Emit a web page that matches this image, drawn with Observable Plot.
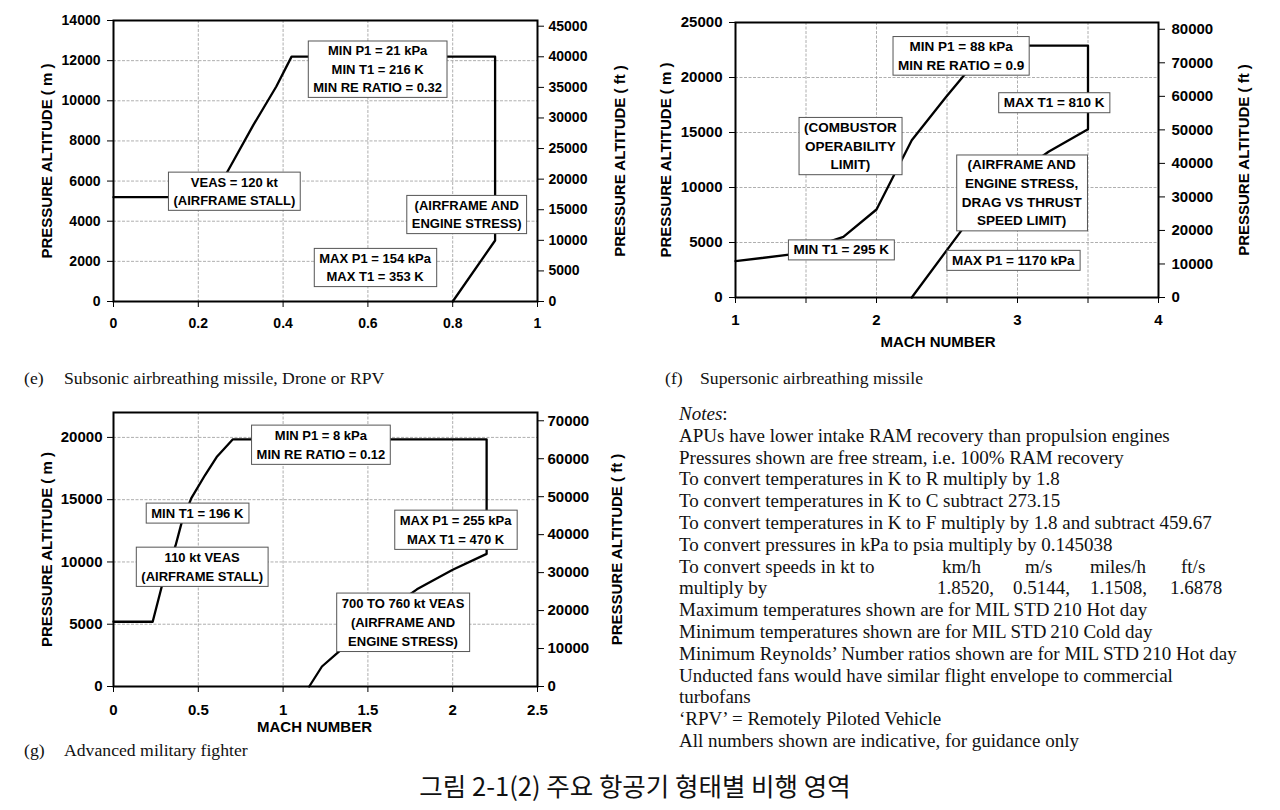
<!DOCTYPE html>
<html><head><meta charset="utf-8">
<script src="https://cdn.jsdelivr.net/npm/d3@7"></script>
<script src="https://cdn.jsdelivr.net/npm/@observablehq/plot@0.6"></script>
<style>
html,body{margin:0;padding:0;background:#fff}
body{width:1280px;height:810px;overflow:hidden;position:relative;font-family:"Liberation Sans",Arial,sans-serif;color:#000}
.panel{position:absolute}
.cap{position:absolute;font-family:"Liberation Serif","Times New Roman",serif;font-size:17.7px;color:#111;white-space:nowrap;line-height:22px}
.note{position:absolute;font-family:"Liberation Serif","Times New Roman",serif;font-size:19px;color:#111;white-space:nowrap;line-height:21.8px}
#title{position:absolute;left:0;width:1270px;top:769px;text-align:center;font-family:"Noto Sans CJK KR",sans-serif;font-size:25.5px;line-height:32px;color:#111}
</style></head>
<body>
<div id="pe" class="panel" style="left:0;top:0"></div>
<div id="pf" class="panel" style="left:640px;top:0"></div>
<div id="pg" class="panel" style="left:0;top:390px"></div>
<div id="captions"></div>
<div id="notes"></div>
<div id="title"></div>
<script>
const FT = 0.3048;
const yTitle = "PRESSURE ALTITUDE ( m )";
const ftTitle = "PRESSURE ALTITUDE ( ft )";
const xTitle = "MACH NUMBER";

// ---- (e) Subsonic airbreathing missile ----
const eMach = [0, 0.235, 0.2755, 0.33, 0.384, 0.42, 0.9, 0.9, 0.8];
const eAlt  = [5200, 5200, 6726, 8800, 10710, 12200, 12200, 3040, 0];
const eLabText = ["MIN P1 = 21 kPa\nMIN T1 = 216 K\nMIN RE RATIO = 0.32", "VEAS = 120 kt\n(AIRFRAME STALL)", "(AIRFRAME AND\nENGINE STRESS)", "MAX P1 = 154 kPa\nMAX T1 = 353 K"];
const eLabMach = [0.623, 0.285, 0.833, 0.617];
const eLabAlt  = [11640, 5560, 4400, 1760];
const eXTicks = [0, 0.2, 0.4, 0.6, 0.8, 1];
const eYTicks = [0, 2000, 4000, 6000, 8000, 10000, 12000, 14000];
const eFtTicks = [0, 5000, 10000, 15000, 20000, 25000, 30000, 35000, 40000, 45000];

// ---- (f) Supersonic airbreathing missile ----
const fMach = [1, 1.394, 1.765, 2.0, 2.25, 2.493, 2.62, 2.8, 3.5, 3.5, 3.22, 2.9, 2.607, 2.25];
const fAlt  = [3300, 3916, 5512, 8000, 14300, 18220, 20180, 22900, 22900, 15300, 13250, 10300, 6175, 0];
const fLabText = ["MIN P1 = 88 kPa\nMIN RE RATIO = 0.9", "MAX T1 = 810 K", "(COMBUSTOR\nOPERABILITY\nLIMIT)", "(AIRFRAME AND\nENGINE STRESS,\nDRAG VS THRUST\nSPEED LIMIT)", "MIN T1 = 295 K", "MAX P1 = 1170 kPa"];
const fLabMach = [2.6, 3.26, 1.815, 3.03, 1.75, 2.97];
const fLabAlt  = [22100, 17840, 13900, 9640, 4460, 3510];
const fXTicks = [1, 1.5, 2, 2.5, 3, 3.5, 4];
const fXLabels = [1, 2, 3, 4];
const fYTicks = [0, 5000, 10000, 15000, 20000, 25000];
const fFtTicks = [0, 10000, 20000, 30000, 40000, 50000, 60000, 70000, 80000];

// ---- (g) Advanced military fighter ----
const gMach = [0, 0.231, 0.2845, 0.366, 0.401, 0.459, 0.541, 0.611, 0.704, 2.2, 2.2, 2.0, 1.789, 1.56, 1.346, 1.229, 1.154];
const gAlt  = [5200, 5200, 8032, 11325, 13119, 15127, 17000, 18470, 19850, 19850, 10650, 9370, 7800, 5600, 3000, 1606, 0];
const gLabText = ["MIN P1 = 8 kPa\nMIN RE RATIO = 0.12", "MIN T1 = 196 K", "110 kt VEAS\n(AIRFRAME STALL)", "MAX P1 = 255 kPa\nMAX T1 = 470 K", "700 TO 760 kt VEAS\n(AIRFRAME AND\nENGINE STRESS)"];
const gLabMach = [1.223, 0.494, 0.523, 2.017, 1.707];
const gLabAlt  = [19545, 14056, 9745, 12717, 5288];
const gXTicks = [0, 0.5, 1, 1.5, 2, 2.5];
const gYTicks = [0, 5000, 10000, 15000, 20000];
const gFtTicks = [0, 10000, 20000, 30000, 40000, 50000, 60000, 70000];

// ---- captions, notes, title ----
const capTags = ["(e)", "(f)", "(g)"];
const capTexts = ["Subsonic airbreathing missile, Drone or RPV", "Supersonic airbreathing missile", "Advanced military fighter"];
const noteLines = [
  "APUs have lower intake RAM recovery than propulsion engines",
  "Pressures shown are free stream, i.e. 100% RAM recovery",
  "To convert temperatures in K to R multiply by 1.8",
  "To convert temperatures in K to C subtract 273.15",
  "To convert temperatures in K to F multiply by 1.8 and subtract 459.67",
  "To convert pressures in kPa to psia multiply by 0.145038",
  "To convert speeds in kt to",
  "multiply by",
  "Maximum temperatures shown are for MIL\u2009STD\u2009210 Hot day",
  "Minimum temperatures shown are for MIL\u2009STD\u2009210 Cold day",
  "Minimum Reynolds\u2019 Number ratios shown are for MIL\u2009STD\u2009210 Hot day",
  "Unducted fans would have similar flight envelope to commercial",
  "turbofans",
  "\u2018RPV\u2019 = Remotely Piloted Vehicle",
  "All numbers shown are indicative, for guidance only"
];
const speedUnits = ["km/h", "m/s", "miles/h", "ft/s"];
const speedFactors = ["1.8520,", "0.5144,", "1.1508,", "1.6878"];
const figTitle = "그림 2-1(2) 주요 항공기 형태별 비행 영역";

const FONT = "'Liberation Sans', Arial, sans-serif";

function panel(c) {
  const env = c.mach.map((m, i) => ({m, a: c.alt[i]}));
  const labs = c.labText.map((t, i) => ({t, m: c.labMach[i], a: c.labAlt[i]}));
  const grid = {stroke: "#9a9a9a", strokeOpacity: 1, strokeWidth: 0.8, strokeDasharray: "3,1.5"};
  const tickText = {fontSize: c.fs, fontWeight: "bold", tickSize: 6, label: null};
  const title = {fontSize: 15, fontWeight: "bold", textAnchor: "middle", lineAnchor: "middle"};
  const marks = [
    Plot.gridX(c.xTicks.filter(d => d > c.xDomain[0] && d < c.xDomain[1]), grid),
    Plot.gridY(c.yTicks.filter(d => d > 0 && d < c.yDomain[1]), grid),
    Plot.line(env, {x: "m", y: "a", stroke: "#000", strokeWidth: 2.3}),
    Plot.frame({stroke: "#000", strokeWidth: 2}),
    Plot.axisX(c.xTicks, {...tickText, tickPadding: c.xPad, tickFormat: c.xFmt}),
    Plot.axisY(c.yTicks, {...tickText, anchor: "left", tickPadding: c.lPad, tickFormat: d => String(d)}),
    Plot.axisY(c.ftTicks.map(f => f * FT), {...tickText, anchor: "right", tickPadding: c.rPad, tickFormat: d => String(Math.round(d / FT))}),
    Plot.text([yTitle], {...title, text: d => d, frameAnchor: "left", rotate: -90, dx: c.ltDx}),
    Plot.text([ftTitle], {...title, text: d => d, frameAnchor: "right", rotate: -90, dx: c.rtDx}),
    Plot.text(labs, {x: "m", y: "a", text: "t", fontSize: c.lfs, fontWeight: "bold", lineHeight: c.lh, lineAnchor: "middle", textAnchor: "middle", fill: "#000"})
  ];
  if (c.xTitle) marks.push(Plot.text([c.xTitle], {...title, text: d => d, frameAnchor: "bottom", dy: c.xtDy, dx: c.xtDx}));
  const svg = Plot.plot({
    width: c.width, height: c.height,
    marginLeft: c.ml, marginRight: c.mr, marginTop: c.mt, marginBottom: c.mb,
    x: {domain: c.xDomain}, y: {domain: c.yDomain},
    style: {fontFamily: FONT, color: "#000", background: "#fff", overflow: "visible"},
    marks
  });
  svg.__labels = c.labText.map(t => t.replace(/\n/g, ""));
  return svg;
}

function addBoxes(svg) {
  const wanted = new Set(svg.__labels);
  Array.from(svg.querySelectorAll("text")).forEach(t => {
    if (!wanted.has(t.textContent)) return;
    const b = t.getBBox();
    const r = document.createElementNS("http://www.w3.org/2000/svg", "rect");
    r.setAttribute("x", b.x - 5);
    r.setAttribute("y", b.y - 2.5);
    r.setAttribute("width", b.width + 10);
    r.setAttribute("height", b.height + 5);
    r.setAttribute("fill", "#fff");
    r.setAttribute("stroke", "#555");
    r.setAttribute("stroke-width", "1");
    const tr = t.getAttribute("transform");
    if (tr) r.setAttribute("transform", tr);
    t.parentNode.insertBefore(r, t);
  });
}

const pe = panel({
  mach: eMach, alt: eAlt, labText: eLabText, labMach: eLabMach, labAlt: eLabAlt,
  xTicks: eXTicks, yTicks: eYTicks, ftTicks: eFtTicks, xFmt: d => String(d),
  xDomain: [0, 1], yDomain: [0, 14000],
  width: 640, height: 345, ml: 113, mr: 103, mt: 20, mb: 44,
  fs: 14, lfs: 13, lh: 1.4, xPad: 11, lPad: 7, rPad: 5, ltDx: -66, rtDx: 83
});
const pf = panel({
  mach: fMach, alt: fAlt, labText: fLabText, labMach: fLabMach, labAlt: fLabAlt,
  xTicks: fXTicks, yTicks: fYTicks, ftTicks: fFtTicks, xFmt: d => fXLabels.includes(d) ? String(d) : "",
  xDomain: [1, 4], yDomain: [0, 25000],
  width: 628, height: 357, ml: 95, mr: 110, mt: 22, mb: 60,
  fs: 15, lfs: 13.5, lh: 1.38, xPad: 11, lPad: 7, rPad: 7, ltDx: -69, rtDx: 86,
  xTitle, xtDy: 45, xtDx: -9
});
const pg = panel({
  mach: gMach, alt: gAlt, labText: gLabText, labMach: gLabMach, labAlt: gLabAlt,
  xTicks: gXTicks, yTicks: gYTicks, ftTicks: gFtTicks, xFmt: d => String(d),
  xDomain: [0, 2.5], yDomain: [0, 22000],
  width: 640, height: 346, ml: 113, mr: 103, mt: 22, mb: 50,
  fs: 15, lfs: 13, lh: 1.48, xPad: 12, lPad: 5, rPad: 4, ltDx: -66, rtDx: 80,
  xTitle, xtDy: 41, xtDx: -11
});
document.getElementById("pe").appendChild(pe);
document.getElementById("pf").appendChild(pf);
document.getElementById("pg").appendChild(pg);
[pe, pf, pg].forEach(addBoxes);

// captions
const capPos = [[24, 64, 367], [665, 700, 367], [24, 64, 739]];
const capBox = document.getElementById("captions");
capTags.forEach((tag, i) => {
  const [x1, x2, y] = capPos[i];
  const a = document.createElement("div"); a.className = "cap"; a.style.left = x1 + "px"; a.style.top = y + "px"; a.textContent = tag;
  const b = document.createElement("div"); b.className = "cap"; b.style.left = x2 + "px"; b.style.top = y + "px"; b.textContent = capTexts[i];
  capBox.appendChild(a); capBox.appendChild(b);
});

// notes
const notes = document.getElementById("notes");
const NX = 679, NY = 403, LH = 21.8;
const head = document.createElement("div"); head.className = "note"; head.style.left = NX + "px"; head.style.top = NY + "px";
head.innerHTML = "<i>Notes</i>:"; notes.appendChild(head);
noteLines.forEach((s, i) => {
  const d = document.createElement("div"); d.className = "note";
  d.style.left = NX + "px"; d.style.top = (NY + LH * (i + 1)) + "px"; d.textContent = s;
  notes.appendChild(d);
});
const unitX = [942, 1025, 1090, 1181];
const factX = [937, 1013, 1090, 1170];
speedUnits.forEach((u, i) => {
  const d = document.createElement("div"); d.className = "note";
  d.style.left = unitX[i] + "px"; d.style.top = (NY + LH * 7) + "px"; d.textContent = u; notes.appendChild(d);
  const f = document.createElement("div"); f.className = "note";
  f.style.left = factX[i] + "px"; f.style.top = (NY + LH * 8) + "px"; f.textContent = speedFactors[i]; notes.appendChild(f);
});
document.getElementById("title").textContent = figTitle;
</script>
</body></html>
